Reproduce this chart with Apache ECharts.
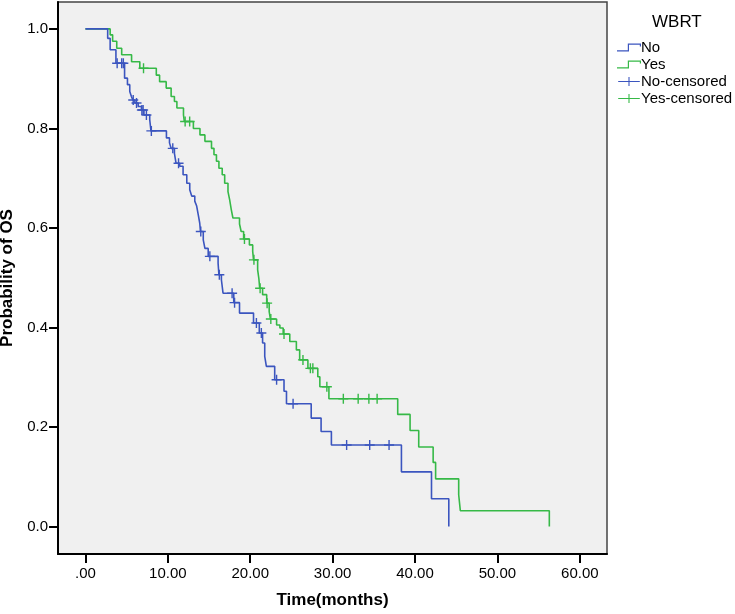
<!DOCTYPE html>
<html>
<head>
<meta charset="utf-8">
<script src="https://cdn.jsdelivr.net/npm/echarts@6/dist/echarts.min.js"></script>
<style>html,body{margin:0;padding:0;background:#fff}#c{width:735px;height:614px}</style>
</head>
<body>
<div id="c"></div>
<script>
// ---- data (Kaplan-Meier steps) ----
const seriesNames = ['No', 'Yes', 'No-censored', 'Yes-censored'];
const xTicks = [0, 10, 20, 30, 40, 50, 60];
const yTicks = [0, 0.2, 0.4, 0.6, 0.8, 1.0];

// WBRT = No : event times (months) and survival after each event
const noTimes = [0, 2.7, 3.0, 3.7, 4.75, 5.1, 5.38, 5.58, 5.75, 6.0, 6.4, 6.8, 7.1, 7.8, 7.95,
  9.83, 10.2, 10.4, 10.8, 11.0, 11.44, 11.85, 12.3, 12.66, 12.9, 13.27, 13.5, 13.7, 13.87, 13.96,
  14.3, 14.5, 14.9, 16.1, 16.2, 16.5, 16.7, 18.0, 18.7, 20.4, 21.1, 21.5, 21.76, 21.96,
  22.97, 24.1, 24.4, 27.4, 28.6, 29.85, 38.35, 42.0, 44.1];
const noSurv = [1, 0.981, 0.958, 0.931, 0.901, 0.888, 0.874, 0.864, 0.857, 0.851, 0.844, 0.837, 0.827, 0.818, 0.795,
  0.781, 0.771, 0.760, 0.750, 0.730, 0.724, 0.707, 0.690, 0.677, 0.664, 0.654, 0.644, 0.626, 0.610, 0.593,
  0.576, 0.559, 0.543, 0.529, 0.506, 0.496, 0.469, 0.450, 0.429, 0.409, 0.389, 0.369, 0.342, 0.322,
  0.295, 0.272, 0.247, 0.218, 0.191, 0.164, 0.110, 0.056, 0.0];
const noCensored = [3.85, 4.4, 4.6, 5.8, 6.2, 6.85, 7.0, 7.4, 8.0, 10.6, 11.3, 14.0, 15.1, 16.25,
  17.8, 18.1, 20.75, 21.35, 23.2, 25.2, 31.7, 34.5, 36.85];

// WBRT = Yes
const yesTimes = [0, 3.0, 3.3, 3.8, 4.4, 5.6, 6.6, 8.6, 9.0, 9.8, 10.4, 10.8, 11.1, 11.9, 12.0,
  13.1, 13.9, 14.5, 15.3, 15.6, 15.9, 16.2, 16.6, 16.9, 17.3, 17.5, 17.7, 17.9, 18.7, 18.9,
  19.2, 19.9, 20.3, 20.4, 20.9, 21.05, 21.15, 21.5, 22.0, 22.3, 22.45, 23.2, 23.6, 24.0,
  24.8, 25.6, 26.0, 27.0, 28.2, 28.45, 29.55, 37.9, 39.4, 40.45, 42.2, 42.5, 45.3, 45.5, 56.3];
const yesSurv = [1, 0.988, 0.975, 0.961, 0.948, 0.934, 0.921, 0.907, 0.894, 0.881, 0.864, 0.854, 0.841, 0.827, 0.814,
  0.800, 0.787, 0.774, 0.760, 0.747, 0.734, 0.720, 0.707, 0.690, 0.673, 0.657, 0.637, 0.620, 0.608, 0.593,
  0.578, 0.566, 0.553, 0.536, 0.516, 0.498, 0.479, 0.466, 0.449, 0.432, 0.417, 0.405, 0.399, 0.387,
  0.372, 0.355, 0.335, 0.318, 0.301, 0.281, 0.257, 0.2255, 0.193, 0.160, 0.129, 0.096, 0.064, 0.032, 0.0];
const yesCensored = [7.05, 12.1, 12.65, 19.3, 20.45, 21.2, 22.05, 22.5, 24.1, 26.4, 27.3, 27.6,
  29.3, 31.3, 33.1, 34.4, 35.4];

const blue = '#3b55bf';
const green = '#36b947';

function survAt(times, surv, t) {
  let v = surv[0];
  for (let i = 0; i < times.length; i++) { if (times[i] <= t) v = surv[i]; }
  return v;
}
const zip = (a, b) => a.map((x, i) => [x, b[i]]);

const plusSym = 'path://M4.3,0H5.7V4.3H10V5.7H5.7V10H4.3V5.7H0V4.3H4.3Z';
const stepIcon = 'path://M0,6.8H12V8H0Z M10.8,0H12V8H10.8Z M10.8,0H24V1.2H10.8Z M22.8,0H24V3H22.8Z';
const plusIcon = 'path://M0,4.4H24V5.6H0Z M11.4,0H12.6V10H11.4Z';
const font = 'Liberation Sans, Arial, sans-serif';

const chart = echarts.init(document.getElementById('c'), null, {renderer: 'canvas'});
chart.setOption({
  animation: false,
  backgroundColor: '#ffffff',
  title: {
    text: 'WBRT', left: 647, top: 9,
    textStyle: {fontSize: 17, fontWeight: 'normal', color: '#000', fontFamily: font}
  },
  legend: {
    orient: 'vertical', left: 612, top: 35, itemWidth: 24, itemHeight: 9, itemGap: 2,
    textStyle: {fontSize: 15, color: '#000', fontFamily: font, padding: [0, 0, 0, -5]},
    data: [
      {name: seriesNames[0], icon: stepIcon},
      {name: seriesNames[1], icon: stepIcon},
      {name: seriesNames[2], icon: plusIcon},
      {name: seriesNames[3], icon: plusIcon}
    ],
    selectedMode: false
  },
  grid: {
    left: 58, right: 128, top: 2, bottom: 60,
    show: true, backgroundColor: '#f0f0f0', borderColor: '#444', borderWidth: 1.5,
    containLabel: false, outerBoundsMode: 'none'
  },
  xAxis: {
    type: 'value', min: -3.33, max: 63.3,
    name: 'Time(months)', nameLocation: 'middle', nameGap: 38,
    nameTextStyle: {fontSize: 17, fontWeight: 'bold', color: '#000', fontFamily: font},
    axisLine: {show: true, onZero: false, lineStyle: {color: '#000', width: 2}},
    axisTick: {show: true, inside: false, length: 9, customValues: xTicks, lineStyle: {color: '#000', width: 2}},
    axisLabel: {
      customValues: xTicks, margin: 12, fontSize: 15, color: '#000', fontFamily: font,
      formatter: v => (v === 0 ? '.00' : v.toFixed(2))
    },
    splitLine: {show: false}
  },
  yAxis: {
    type: 'value', min: -0.055, max: 1.054,
    name: 'Probability of OS', nameLocation: 'middle', nameGap: 41,
    nameTextStyle: {fontSize: 17, fontWeight: 'bold', color: '#000', fontFamily: font},
    axisLine: {show: true, onZero: false, lineStyle: {color: '#000', width: 2}},
    axisTick: {show: true, inside: false, length: 9, customValues: yTicks, lineStyle: {color: '#000', width: 2}},
    axisLabel: {
      customValues: yTicks, margin: 10, fontSize: 15, color: '#000', fontFamily: font,
      formatter: v => v.toFixed(1)
    },
    splitLine: {show: false}
  },
  series: [
    {
      name: seriesNames[0], type: 'line', step: 'end', showSymbol: false, symbol: 'none',
      data: zip(noTimes, noSurv), itemStyle: {color: blue},
      lineStyle: {color: blue, width: 1.6}, z: 3
    },
    {
      name: seriesNames[1], type: 'line', step: 'end', showSymbol: false, symbol: 'none',
      data: zip(yesTimes, yesSurv), itemStyle: {color: green},
      lineStyle: {color: green, width: 1.6}, z: 2
    },
    {
      name: seriesNames[2], type: 'scatter', symbol: plusSym, symbolSize: 10,
      data: noCensored.map(t => [t, survAt(noTimes, noSurv, t)]),
      itemStyle: {color: blue, opacity: 1}, z: 4
    },
    {
      name: seriesNames[3], type: 'scatter', symbol: plusSym, symbolSize: 10,
      data: yesCensored.map(t => [t, survAt(yesTimes, yesSurv, t)]),
      itemStyle: {color: green, opacity: 1}, z: 4
    }
  ]
});
</script>
</body>
</html>
